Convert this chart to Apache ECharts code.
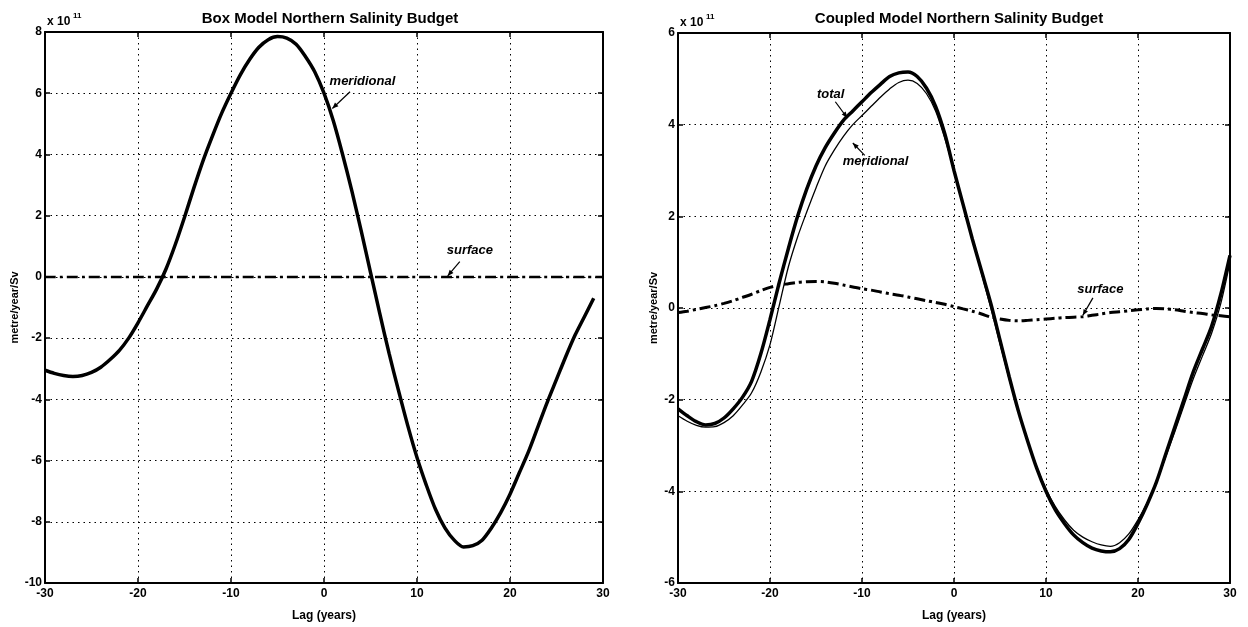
<!DOCTYPE html>
<html>
<head>
<meta charset="utf-8">
<script src="https://cdn.jsdelivr.net/npm/echarts@6/dist/echarts.min.js"></script>
<style>
    html, body { margin: 0; padding: 0; background: #fff; }
    #chart { width: 1248px; height: 627px; }
</style>
</head>
<body>
<div id="chart"></div>
<script>
/*
    Two salinity budget panels, values in units of 1e11 metre/year/Sv
    lag in years
*/

// box model panel
var boxLag = [-30, -29, -28, -27, -26, -25, -24, -23, -22, -21, -20, -19, -18, -17, -16, -15, -14, -13, -12, -11, -10, -9, -8, -7, -6, -5, -4, -3, -2, -1, 0, 1, 2, 3, 4, 5, 6, 7, 8, 9, 10, 11, 12, 13, 14, 15, 16, 17, 18, 19, 20, 21, 22, 23, 24, 25, 26, 27, 28, 29];
var boxMeridional = [-3.05, -3.15, -3.22, -3.25, -3.22, -3.12, -2.95, -2.7, -2.4, -2.0, -1.5, -0.95, -0.4, 0.25, 1.05, 1.95, 2.9, 3.8, 4.6, 5.35, 6.0, 6.6, 7.1, 7.5, 7.75, 7.85, 7.8, 7.6, 7.2, 6.7, 6.0, 5.1, 4.0, 2.8, 1.5, 0.15, -1.2, -2.5, -3.7, -4.85, -5.9, -6.8, -7.6, -8.2, -8.6, -8.82, -8.78, -8.6, -8.2, -7.7, -7.1, -6.4, -5.7, -4.9, -4.1, -3.35, -2.6, -1.9, -1.3, -0.7];
var boxSurfaceLag = [-30, 30];
var boxSurface = [0, 0];

// coupled model panel
var cplLag = [-30, -29, -28, -27, -26, -25, -24, -23, -22, -21, -20, -19, -18, -17, -16, -15, -14, -13, -12, -11, -10, -9, -8, -7, -6, -5, -4, -3, -2, -1, 0, 1, 2, 3, 4, 5, 6, 7, 8, 9, 10, 11, 12, 13, 14, 15, 16, 17, 18, 19, 20, 21, 22, 23, 24, 25, 26, 27, 28, 29, 30];
var cplTotal = [-2.2, -2.35, -2.48, -2.55, -2.52, -2.4, -2.2, -1.95, -1.6, -1.0, -0.25, 0.55, 1.3, 2.0, 2.6, 3.1, 3.5, 3.82, 4.1, 4.3, 4.5, 4.7, 4.88, 5.05, 5.13, 5.15, 5.05, 4.8, 4.4, 3.8, 3.0, 2.25, 1.5, 0.8, 0.1, -0.7, -1.5, -2.25, -2.9, -3.5, -4.0, -4.4, -4.7, -4.95, -5.12, -5.24, -5.3, -5.32, -5.25, -5.05, -4.7, -4.28, -3.8, -3.2, -2.6, -2.0, -1.4, -0.9, -0.4, 0.3, 1.15];
var cplMeridional = [-2.35, -2.47, -2.56, -2.6, -2.59, -2.5, -2.35, -2.12, -1.85, -1.4, -0.8, 0.05, 0.9, 1.55, 2.1, 2.62, 3.1, 3.45, 3.75, 4.0, 4.2, 4.4, 4.6, 4.78, 4.92, 4.97, 4.9, 4.68, 4.3, 3.7, 3.0, 2.25, 1.5, 0.75, 0.0, -0.78, -1.55, -2.25, -2.9, -3.47, -3.95, -4.33, -4.62, -4.85, -5.0, -5.1, -5.17, -5.2, -5.12, -4.93, -4.62, -4.25, -3.8, -3.25, -2.7, -2.12, -1.55, -1.05, -0.55, 0.1, 1.0];
var cplSurface = [-0.1, -0.07, -0.03, 0.01, 0.05, 0.1, 0.16, 0.23, 0.3, 0.38, 0.45, 0.5, 0.53, 0.56, 0.575, 0.58, 0.57, 0.54, 0.5, 0.46, 0.42, 0.39, 0.35, 0.31, 0.28, 0.24, 0.2, 0.16, 0.12, 0.08, 0.03, -0.02, -0.07, -0.13, -0.2, -0.24, -0.27, -0.28, -0.27, -0.255, -0.24, -0.225, -0.21, -0.2, -0.19, -0.16, -0.13, -0.1, -0.08, -0.06, -0.04, -0.02, -0.01, -0.02, -0.04, -0.07, -0.1, -0.12, -0.15, -0.17, -0.19];

var fontName = '"Liberation Sans", Arial, sans-serif';
var dashDot = [11, 4, 3, 4];

function pairs(xs, ys) {
    var out = [];
    for (var i = 0; i < xs.length; i++) {
        out.push([xs[i], ys[i]]);
    }
    return out;
}

function xAxisFor(idx, pos) {
    var main = pos === 'bottom';
    return {
        gridIndex: idx,
        type: 'value',
        position: pos,
        min: -30, max: 30, interval: 10,
        name: main ? 'Lag (years)' : '',
        nameLocation: 'middle',
        nameGap: 27,
        nameTextStyle: { color: '#000', fontFamily: fontName, fontWeight: 'bold', fontSize: 12 },
        axisLine: { show: true, onZero: false, lineStyle: { color: '#000', width: 2 } },
        axisTick: { show: true, inside: true, length: 5, lineStyle: { color: '#000', width: 1.5 } },
        axisLabel: { show: main, color: '#000', fontFamily: fontName, fontWeight: 'bold', fontSize: 12, margin: 5 },
        splitLine: { show: main, lineStyle: { color: '#000', type: [1.5, 4], width: 1 } }
    };
}

function yAxisFor(idx, pos, lo, hi, gap) {
    var main = pos === 'left';
    return {
        gridIndex: idx,
        type: 'value',
        position: pos,
        min: lo, max: hi, interval: 2,
        name: main ? 'metre/year/Sv' : '',
        nameLocation: 'middle',
        nameGap: gap,
        nameTextStyle: { color: '#000', fontFamily: fontName, fontWeight: 'bold', fontSize: 11 },
        axisLine: { show: true, onZero: false, lineStyle: { color: '#000', width: 2 } },
        axisTick: { show: true, inside: true, length: 5, lineStyle: { color: '#000', width: 1.5 } },
        axisLabel: { show: main, color: '#000', fontFamily: fontName, fontWeight: 'bold', fontSize: 12, margin: 3 },
        splitLine: { show: main, lineStyle: { color: '#000', type: [1.5, 4], width: 1 } }
    };
}

function lineSeries(xIdx, yIdx, data, width, dash) {
    return {
        type: 'line',
        xAxisIndex: xIdx,
        yAxisIndex: yIdx,
        data: data,
        smooth: 0.3,
        symbol: 'none',
        silent: true,
        lineStyle: { color: '#000', width: width, type: dash || 'solid' },
        z: 5
    };
}

window.onload = function () {

    var myChart = echarts.init(document.getElementById('chart'), null, { renderer: 'canvas' });

    var option = {
        backgroundColor: '#fff',
        animation: false,
        title: [
            { text: 'Box Model Northern Salinity Budget', left: 325, top: 6, textAlign: 'center',
              textStyle: { fontFamily: fontName, fontWeight: 'bold', fontSize: 15, color: '#000' } },
            { text: 'Coupled Model Northern Salinity Budget', left: 954, top: 6, textAlign: 'center',
              textStyle: { fontFamily: fontName, fontWeight: 'bold', fontSize: 15, color: '#000' } }
        ],
        grid: [
            { left: 45, right: 645, top: 32, bottom: 40 },
            { left: 678, right: 18, top: 33, bottom: 38 }
        ],
        xAxis: [
            xAxisFor(0, 'bottom'), xAxisFor(0, 'top'),
            xAxisFor(1, 'bottom'), xAxisFor(1, 'top')
        ],
        yAxis: [
            yAxisFor(0, 'left', -10, 8, 24), yAxisFor(0, 'right', -10, 8, 0),
            yAxisFor(1, 'left', -6, 6, 19), yAxisFor(1, 'right', -6, 6, 0)
        ],
        series: [
            lineSeries(0, 0, pairs(boxLag, boxMeridional), 3.5),
            lineSeries(0, 0, pairs(boxSurfaceLag, boxSurface), 2.5, dashDot),
            lineSeries(2, 2, pairs(cplLag, cplTotal), 3.5),
            lineSeries(2, 2, pairs(cplLag, cplMeridional), 1.3),
            lineSeries(2, 2, pairs(cplLag, cplSurface), 3, dashDot)
        ]
    };

    myChart.setOption(option);

    // annotations: text position + arrow from -> to, all in data units
    var notes = [
        { grid: 0, text: 'meridional', at: [0.6, 6.4], from: [2.8, 6.05], to: [0.9, 5.5] },
        { grid: 0, text: 'surface', at: [13.2, 0.85], from: [14.6, 0.5], to: [13.3, 0.03] },
        { grid: 1, text: 'total', at: [-14.9, 4.65], from: [-12.9, 4.5], to: [-11.6, 4.15] },
        { grid: 1, text: 'meridional', at: [-12.1, 3.2], from: [-9.7, 3.33], to: [-11.0, 3.6] },
        { grid: 1, text: 'surface', at: [13.4, 0.4], from: [15.1, 0.22], to: [14.0, -0.16] }
    ];

    var graphics = [];
    for (var i = 0; i < notes.length; i++) {
        var n = notes[i];
        var finder = { gridIndex: n.grid };
        var p = myChart.convertToPixel(finder, n.at);
        var a = myChart.convertToPixel(finder, n.from);
        var b = myChart.convertToPixel(finder, n.to);

        graphics.push({
            type: 'text', x: p[0], y: p[1], z: 20,
            style: { text: n.text, fill: '#000', font: 'italic bold 13px ' + fontName,
                     textVerticalAlign: 'middle', verticalAlign: 'middle' }
        });
        graphics.push({
            type: 'line', z: 20,
            shape: { x1: a[0], y1: a[1], x2: b[0], y2: b[1] },
            style: { stroke: '#000', lineWidth: 1.2 }
        });

        // small arrow head at the curve end
        var ang = Math.atan2(b[1] - a[1], b[0] - a[0]);
        var len = 6, wid = 2.5;
        var bx = b[0] - len * Math.cos(ang), by = b[1] - len * Math.sin(ang);
        graphics.push({
            type: 'polygon', z: 20,
            shape: { points: [
                [b[0], b[1]],
                [bx + wid * Math.sin(ang), by - wid * Math.cos(ang)],
                [bx - wid * Math.sin(ang), by + wid * Math.cos(ang)]
            ] },
            style: { fill: '#000' }
        });
    }

    // scale factor labels above each y axis (base text + raised exponent)
    var sc = [[0, 8], [1, 6]];
    for (var j = 0; j < sc.length; j++) {
        var q = myChart.convertToPixel({ gridIndex: sc[j][0] }, [-30, sc[j][1]]);
        graphics.push({
            type: 'text', x: q[0] + 2, y: q[1] - 4, z: 20,
            style: { text: 'x 10', fill: '#000', font: 'bold 12px ' + fontName, verticalAlign: 'bottom' }
        });
        graphics.push({
            type: 'text', x: q[0] + 28, y: q[1] - 12, z: 20,
            style: { text: '11', fill: '#000', font: 'bold 8px ' + fontName, verticalAlign: 'bottom' }
        });
    }

    myChart.setOption({ graphic: graphics });
};
</script>
</body>
</html>
